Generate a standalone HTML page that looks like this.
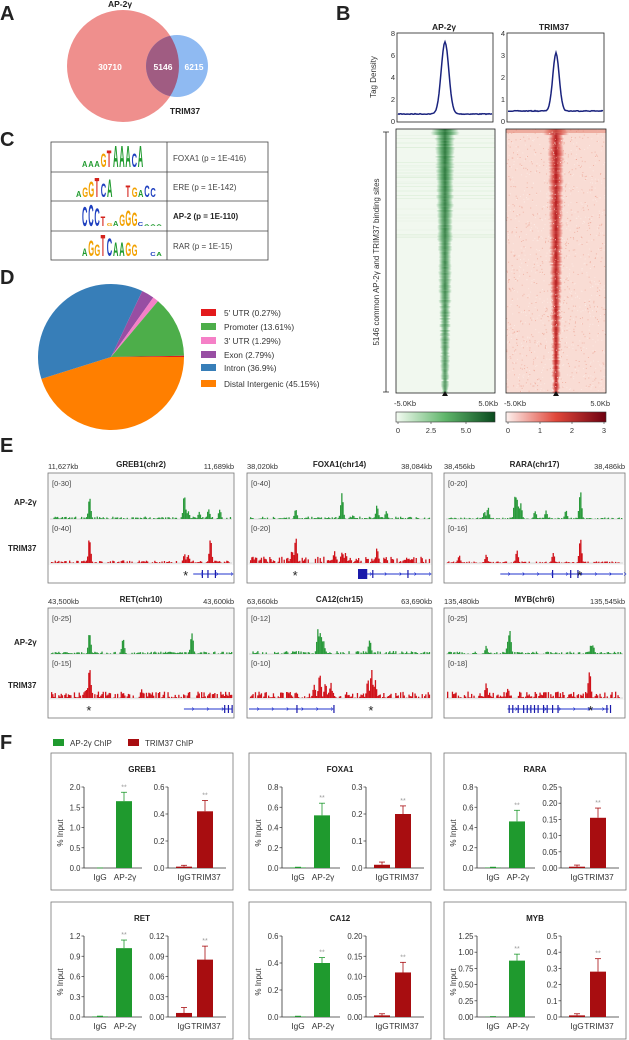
<!DOCTYPE html>
<html><head><meta charset="utf-8">
<style>
html,body{margin:0;padding:0;background:#fff;}
svg{display:block;font-family:"Liberation Sans",Arial,sans-serif;}
</style></head>
<body>
<svg id="s" width="629" height="1040" viewBox="0 0 629 1040" xmlns="http://www.w3.org/2000/svg">
<defs>
<linearGradient id="gband" x1="0" x2="1" y1="0" y2="0">
<stop offset="0" stop-color="#2f9a45" stop-opacity="0"/><stop offset="0.3" stop-color="#2a8a3e" stop-opacity="0.75"/><stop offset="0.5" stop-color="#1d6e2e" stop-opacity="1"/><stop offset="0.7" stop-color="#2a8a3e" stop-opacity="0.75"/><stop offset="1" stop-color="#2f9a45" stop-opacity="0"/></linearGradient>
<linearGradient id="rband" x1="0" x2="1" y1="0" y2="0">
<stop offset="0" stop-color="#d8322a" stop-opacity="0"/><stop offset="0.3" stop-color="#d02a24" stop-opacity="0.75"/><stop offset="0.5" stop-color="#b0161a" stop-opacity="1"/><stop offset="0.7" stop-color="#d02a24" stop-opacity="0.75"/><stop offset="1" stop-color="#d8322a" stop-opacity="0"/></linearGradient>
<linearGradient id="gcb" x1="0" x2="1"><stop offset="0" stop-color="#f4fbf2"/><stop offset="0.5" stop-color="#5fb56a"/><stop offset="1" stop-color="#0a4a1e"/></linearGradient>
<linearGradient id="rcb" x1="0" x2="1"><stop offset="0" stop-color="#fdf1ee"/><stop offset="0.5" stop-color="#e0473a"/><stop offset="1" stop-color="#6e0010"/></linearGradient>
<clipPath id="bc"><circle cx="177" cy="66" r="31"/></clipPath>
</defs>

<g font-weight="bold" font-size="20" fill="#222">
<text x="0" y="20">A</text><text x="336" y="20">B</text><text x="0" y="146">C</text><text x="0" y="284">D</text><text x="0" y="452">E</text><text x="0" y="749">F</text>
</g>

<circle cx="123" cy="66" r="56" fill="#ef8f8d"/>
<circle cx="177" cy="66" r="31" fill="#8fbaf2"/>
<circle cx="123" cy="66" r="56" fill="#a05c82" clip-path="url(#bc)"/>
<g font-size="8.5" font-weight="bold" text-anchor="middle">
<text x="120" y="7" fill="#222">AP-2γ</text>
<text x="185" y="114" fill="#222">TRIM37</text>
<text x="110" y="70" fill="#fff">30710</text>
<text x="163" y="70" fill="#fff">5146</text>
<text x="194" y="70" fill="#fff">6215</text>
</g>

<g font-size="8.5" font-weight="bold" text-anchor="middle" fill="#222">
<text x="444" y="30">AP-2γ</text><text x="554" y="30">TRIM37</text></g>
<rect x="397" y="33" width="96" height="89" fill="none" stroke="#222" stroke-width="0.8"/>
<rect x="507" y="33" width="97" height="89" fill="none" stroke="#222" stroke-width="0.8"/>
<g id="prof"></g>
<text transform="translate(376,77) rotate(-90)" font-size="8" text-anchor="middle" fill="#333">Tag Density</text>
<g font-size="7.5" fill="#333" text-anchor="end">
<text x="395" y="36">8</text><text x="395" y="58">6</text><text x="395" y="80">4</text><text x="395" y="102">2</text><text x="395" y="124">0</text>
<text x="505" y="36">4</text><text x="505" y="58">3</text><text x="505" y="80">2</text><text x="505" y="102">1</text><text x="505" y="124">0</text>
</g>

<g id="hm"></g>
<rect x="396" y="129" width="99" height="264" fill="none" stroke="#222" stroke-width="0.8"/>
<rect x="506" y="129" width="100" height="264" fill="none" stroke="#222" stroke-width="0.8"/>
<path d="M383,132 H389 M386,132 V392 M383,392 H389" stroke="#222" stroke-width="0.8" fill="none"/>
<text transform="translate(379,262) rotate(-90)" font-size="8" text-anchor="middle" fill="#333">5146 common AP-2γ and TRIM37 binding sites</text>
<path d="M442,396 L448,396 L445,391 Z M553,396 L559,396 L556,391 Z" fill="#111"/>
<g font-size="7.5" fill="#333">
<text x="394" y="406">-5.0Kb</text><text x="498" y="406" text-anchor="end">5.0Kb</text>
<text x="504" y="406">-5.0Kb</text><text x="610" y="406" text-anchor="end">5.0Kb</text>
</g>
<rect x="396" y="412" width="99" height="10" fill="url(#gcb)" stroke="#333" stroke-width="0.6"/>
<rect x="506" y="412" width="100" height="10" fill="url(#rcb)" stroke="#333" stroke-width="0.6"/>
<g font-size="7.5" fill="#333" text-anchor="middle">
<text x="398" y="433">0</text><text x="431" y="433">2.5</text><text x="466" y="433">5.0</text>
<text x="508" y="433">0</text><text x="540" y="433">1</text><text x="572" y="433">2</text><text x="604" y="433">3</text>
</g>
<path d="M398,422v2M431,422v2M466,422v2M508,422v2M540,422v2M572,422v2M604,422v2" stroke="#333" stroke-width="0.6"/>

<rect x="51" y="142" width="217" height="118" fill="none" stroke="#444" stroke-width="0.8"/>
<path d="M167,142V260M51,172H268M51,201H268M51,231H268" stroke="#444" stroke-width="0.8"/>
<g font-size="8" fill="#444">
<text x="173" y="161">FOXA1 (p = 1E-416)</text>
<text x="173" y="190">ERE (p = 1E-142)</text>
<text x="173" y="219" font-weight="bold" fill="#222">AP-2 (p = 1E-110)</text>
<text x="173" y="249">RAR (p = 1E-15)</text>
</g>
<g id="logos" font-weight="bold" font-family="Liberation Sans Narrow,Liberation Sans,sans-serif"></g>

<g id="pie"></g>
<g font-size="8.3" fill="#333">
<rect x="201" y="309" width="15" height="7" fill="#e31a1c"/><text x="224" y="316">5' UTR (0.27%)</text>
<rect x="201" y="323" width="15" height="7" fill="#4dae4a"/><text x="224" y="330">Promoter (13.61%)</text>
<rect x="201" y="337" width="15" height="7" fill="#f580c7"/><text x="224" y="344">3' UTR (1.29%)</text>
<rect x="201" y="351" width="15" height="7" fill="#984ea3"/><text x="224" y="358">Exon (2.79%)</text>
<rect x="201" y="364" width="15" height="7" fill="#377eb8"/><text x="224" y="371">Intron (36.9%)</text>
<rect x="201" y="380" width="15" height="7" fill="#ff7f00"/><text x="224" y="387">Distal Intergenic (45.15%)</text>
</g>

<g id="tracks"></g>
<g font-size="8" font-weight="bold" fill="#222">
<text x="14" y="505">AP-2γ</text><text x="8" y="551">TRIM37</text>
<text x="14" y="645">AP-2γ</text><text x="8" y="688">TRIM37</text>
</g>

<rect x="53" y="739" width="11" height="7" fill="#1f9a2e"/><text x="70" y="746" font-size="8" fill="#333">AP-2γ ChIP</text>
<rect x="128" y="739" width="11" height="7" fill="#a80d10"/><text x="145" y="746" font-size="8" fill="#333">TRIM37 ChIP</text>
<g id="bars"></g>
</svg>
<script>
var NS="http://www.w3.org/2000/svg";
function el(p,t,a,txt){var e=document.createElementNS(NS,t);for(var k in a)e.setAttribute(k,a[k]);if(txt!==undefined)e.textContent=txt;p.appendChild(e);return e;}
var seed=7;function rnd(){seed=(seed*16807)%2147483647;return (seed-1)/2147483646;}
var pg=document.getElementById('prof');
function prof(x0,w,base,peak,cx,sig){var pts=[];for(var i=0;i<=w;i++){var x=x0+i;var d=x-cx;var y=base-(base-peak)*Math.exp(-d*d/(2*sig*sig))+(rnd()-0.5)*0.8;pts.push(x+','+y.toFixed(1));}el(pg,'polyline',{points:pts.join(' '),fill:'none',stroke:'#1a237e','stroke-width':1.5});}
prof(398,94,114,42,445,3.8);prof(508,95,111,53,556,3.2);
var hm=document.getElementById('hm');
el(hm,'rect',{x:396,y:129,width:99,height:264,fill:'#f1f8ef'});
el(hm,'rect',{x:506,y:129,width:100,height:264,fill:'#f9dcd4'});
for(var y=129;y<393;y+=1.5){var t=(y-129)/264;
 var a=rnd();if(y<240&&a<0.3){el(hm,'rect',{x:396,y:y,width:99,height:1,fill:'#bfe0b9',opacity:(0.1+0.3*rnd()*(1-t)).toFixed(2)});}
 var hw=10-6.5*t+(rnd()-0.5)*2;if(y<135)hw+=4;
 el(hm,'rect',{x:(445-hw).toFixed(1),y:y,width:(2*hw).toFixed(1),height:1.6,fill:'url(#gband)',opacity:(0.85+0.1*rnd()-0.2*t).toFixed(2)});
 var hr=8-4.5*t+(rnd()-0.5)*2;if(y<135)hr+=4;
 el(hm,'rect',{x:(556-hr).toFixed(1),y:y,width:(2*hr).toFixed(1),height:1.6,fill:'url(#rband)',opacity:(0.85+0.15*rnd()).toFixed(2)});
}
for(var i=0;i<1400;i++){el(hm,'rect',{x:(506+rnd()*99).toFixed(1),y:(129+rnd()*263).toFixed(1),width:1,height:1,fill:rnd()<0.5?'#eea596':'#fdeeea',opacity:0.7});}
el(hm,'rect',{x:506,y:129,width:100,height:4,fill:'#e07060',opacity:0.45});
var lg=document.getElementById('logos');
var cols={A:'#1f9a2e',C:'#1e3fbf',G:'#f2a100',T:'#d4231c'};
function logo(seq,hts,x0,yb){var x=x0;for(var i=0;i<seq.length;i++){var c=seq[i];var h=hts[i];if(c!==' '){el(lg,'text',{x:0,y:0,'font-size':10,fill:cols[c],transform:'translate('+x+','+yb+') scale(0.75,'+(h/7.2).toFixed(2)+')'},c);}x+=6.2;}}
logo('AAAGTAAACA',[6,6,6,14,17,22,22,22,14,22],82,167);
logo('AGGTCA  TGACC',[6,10,16,20,14,18,0,0,12,10,7,12,9],76,197);
logo('CCCTGAGGGCAAA',[20,22,18,10,3,5,12,16,14,4,2,2,2],82,226);
logo('AGGTCAAGG  CA',[8,16,12,22,18,14,14,14,12,0,0,4,4],82,256);
var pie=document.getElementById('pie');
var data=[[45.15,'#ff7f00'],[36.9,'#377eb8'],[2.79,'#984ea3'],[1.29,'#f580c7'],[13.61,'#4dae4a'],[0.27,'#e31a1c']];
var cx=111,cy=357,r=73,ang=0;
data.forEach(function(d){var a2=ang+d[0]/100.01*2*Math.PI;var x1=cx+r*Math.cos(ang),y1=cy+r*Math.sin(ang),x2=cx+r*Math.cos(a2),y2=cy+r*Math.sin(a2);var lf=(a2-ang)>Math.PI?1:0;el(pie,'path',{d:'M'+cx+','+cy+'L'+x1.toFixed(2)+','+y1.toFixed(2)+'A'+r+','+r+' 0 '+lf+' 1 '+x2.toFixed(2)+','+y2.toFixed(2)+'Z',fill:d[1]});ang=a2;});
var tg=document.getElementById('tracks');
var boxes=[
 {x:48,w:186,y:473,h:110,l:'11,627kb',t:'GREB1(chr2)',r:'11,689kb',r1:'[0-30]',r2:'[0-40]',
  g:[[.22,.75],[.73,.9],[.75,.3],[.81,.25],[.86,.4],[.92,.35]],rd:[[.22,.85],[.73,.3],[.75,.3],[.87,.8]],star:.74,gene:[.77,1,[.83,.86,.9]],noise:.08},
 {x:247,w:185,y:473,h:110,l:'38,020kb',t:'FOXA1(chr14)',r:'38,084kb',r1:'[0-40]',r2:'[0-20]',
  g:[[.26,.35],[.51,.95],[.57,.15],[.70,.5],[.75,.3]],rd:[[.26,.9],[.51,.4],[.70,.5],[.24,.45],[.47,.4],[.53,.35]],star:.26,gene:[.61,1,[.68,.87]],block:[.60,.65],noise:.08,rnoise:.2},
 {x:444,w:181,y:473,h:110,l:'38,456kb',t:'RARA(chr17)',r:'38,486kb',r1:'[0-20]',r2:'[0-16]',
  g:[[.24,.4],[.22,.3],[.39,.9],[.40,.8],[.42,.6],[.5,.3],[.56,.3],[.75,.95],[.67,.3]],rd:[[.75,.85],[.4,.4],[.08,.25],[.23,.3],[.6,.35]],star:.75,gene:[.3,1,[.6,.7,.74]],noise:.05},
 {x:48,w:186,y:608,h:110,l:'43,500kb',t:'RET(chr10)',r:'43,600kb',r1:'[0-25]',r2:'[0-15]',
  g:[[.22,.8],[.40,.6],[.77,.85]],rd:[[.22,1.1],[.2,.3],[.5,.3]],star:.22,gene:[.72,1,[.95,.97,.99]],noise:.08,rnoise:.2},
 {x:247,w:185,y:608,h:110,l:'63,660kb',t:'CA12(chr15)',r:'63,690kb',r1:'[0-12]',r2:'[0-10]',
  g:[[.38,.85],[.39,.8],[.40,.7],[.41,.5],[.66,.55]],rd:[[.39,.9],[.36,.5],[.42,.5],[.45,.5],[.67,.9],[.65,.6],[.69,.6]],star:.67,gene:[0,.47,[.27,.47]],noise:.1,rnoise:.2},
 {x:444,w:181,y:608,h:110,l:'135,480kb',t:'MYB(chr6)',r:'135,545kb',r1:'[0-25]',r2:'[0-18]',
  g:[[.23,.3],[.36,.95],[.35,.5],[.81,.35],[.82,.35]],rd:[[.23,.5],[.80,.95],[.35,.3]],star:.81,gene:[.34,.92,[.36,.38,.41,.44,.46,.48,.5,.52,.55,.57,.6,.63,.9,.92]],noise:.08,rnoise:.2}
];
boxes.forEach(function(b){
 el(tg,'rect',{x:b.x,y:b.y,width:b.w,height:b.h,fill:'#f6f6f6',stroke:'#777','stroke-width':0.8});
 el(tg,'rect',{x:b.x+0.5,y:b.y+92,width:b.w-1,height:b.h-92.5,fill:'#fff'});
 el(tg,'text',{x:b.x,y:b.y-4,'font-size':7.5,fill:'#333'},b.l);
 el(tg,'text',{x:b.x+b.w/2,y:b.y-6,'font-size':8,'font-weight':'bold','text-anchor':'middle',fill:'#222'},b.t);
 el(tg,'text',{x:b.x+b.w,y:b.y-4,'font-size':7.5,'text-anchor':'end',fill:'#333'},b.r);
 el(tg,'text',{x:b.x+4,y:b.y+13,'font-size':7.5,fill:'#444'},b.r1);
 el(tg,'text',{x:b.x+4,y:b.y+58,'font-size':7.5,fill:'#444'},b.r2);
 function track(base,hmax,peaks,col,nz){
  el(tg,'line',{x1:b.x+2,x2:b.x+b.w-2,y1:base,y2:base,stroke:'#ccc','stroke-width':0.8});
  for(var x=b.x+3;x<b.x+b.w-3;x+=1.2){var f=(x-b.x)/b.w;var h=rnd()<0.75?rnd()*hmax*nz:0;
   peaks.forEach(function(p){var d=(f-p[0])*b.w;if(Math.abs(d)<3.5)h=Math.max(h,p[1]*hmax*Math.exp(-d*d/3)*(0.8+0.2*rnd()));});
   if(h>0.3)el(tg,'rect',{x:x.toFixed(1),y:(base-h).toFixed(1),width:1.3,height:h.toFixed(1),fill:col});}
 }
 track(b.y+46,30,b.g,'#2b9a3c',b.noise);
 track(b.y+90,32,b.rd,'#d0121a',b.rnoise||b.noise);
 var gy=b.y+101,g=b.gene;
 el(tg,'line',{x1:b.x+b.w*g[0]+2,x2:b.x+b.w*g[1]-2,y1:gy,y2:gy,stroke:'#2233cc','stroke-width':1});
 g[2].forEach(function(f){el(tg,'line',{x1:b.x+b.w*f,x2:b.x+b.w*f,y1:gy-4,y2:gy+4,stroke:'#1a1aaa','stroke-width':1.2});});
 for(var f=g[0]+0.06;f<g[1];f+=0.08){el(tg,'path',{d:'M'+(b.x+b.w*f-1)+','+(gy-1.5)+'l2,1.5l-2,1.5',stroke:'#2233cc',fill:'none','stroke-width':0.6});}
 if(b.block)el(tg,'rect',{x:b.x+b.w*b.block[0],y:gy-5,width:b.w*(b.block[1]-b.block[0]),height:10,fill:'#1a1aaa'});
 el(tg,'text',{x:b.x+b.w*b.star,y:gy+6,'font-size':13,'text-anchor':'middle',fill:'#222'},'*');
});
var bg=document.getElementById('bars');
var charts=[
 {x:51,y:753,t:'GREB1',L:[['0.0','0.5','1.0','1.5','2.0'],2,0.001,0,1.65,.22],R:[['0.0','0.2','0.4','0.6'],0.6,0.01,0.01,0.42,.08]},
 {x:249,y:753,t:'FOXA1',L:[['0.0','0.2','0.4','0.6','0.8'],0.8,0.005,0.003,0.52,.12],R:[['0.0','0.1','0.2','0.3'],0.3,0.012,0.01,0.2,.03]},
 {x:444,y:753,t:'RARA',L:[['0.0','0.2','0.4','0.6','0.8'],0.8,0.005,0.003,0.46,.11],R:[['0.00','0.05','0.10','0.15','0.20','0.25'],0.25,0.004,0.005,0.155,.03]},
 {x:51,y:902,t:'RET',L:[['0.0','0.3','0.6','0.9','1.2'],1.2,0.008,0.005,1.02,.12],R:[['0.00','0.03','0.06','0.09','0.12'],0.12,0.006,0.008,0.085,.02]},
 {x:249,y:902,t:'CA12',L:[['0.0','0.2','0.4','0.6'],0.6,0.003,0.003,0.4,.04],R:[['0.00','0.05','0.10','0.15','0.20'],0.2,0.004,0.004,0.11,.025]},
 {x:444,y:902,t:'MYB',L:[['0.00','0.25','0.50','0.75','1.00','1.25'],1.25,0.004,0.003,0.87,.1],R:[['0.0','0.1','0.2','0.3','0.4','0.5'],0.5,0.01,0.01,0.28,.08]}
];
charts.forEach(function(c){
 el(bg,'rect',{x:c.x,y:c.y,width:182,height:137,fill:'none',stroke:'#777','stroke-width':0.8});
 el(bg,'text',{x:c.x+91,y:c.y+19,'font-size':8,'font-weight':'bold','text-anchor':'middle',fill:'#222'},c.t);
 el(bg,'text',{x:0,y:0,'font-size':8,'text-anchor':'middle',fill:'#333',transform:'translate('+(c.x+12)+','+(c.y+80)+') rotate(-90)'},'% Input');
 var top=c.y+34,zero=c.y+115;
 [[c.L,c.x+33,'#1f9a2e','AP-2γ',40],[c.R,c.x+117,'#a80d10','TRIM37',37]].forEach(function(s){
  var d=s[0],ax=s[1],n=d[0].length;
  el(bg,'line',{x1:ax,x2:ax,y1:top,y2:zero,stroke:'#333','stroke-width':0.8});
  el(bg,'line',{x1:ax,x2:ax+58,y1:zero,y2:zero,stroke:'#333','stroke-width':0.8});
  d[0].forEach(function(l,i){var yy=zero-(zero-top)*i/(n-1);el(bg,'line',{x1:ax-2.5,x2:ax,y1:yy,y2:yy,stroke:'#333','stroke-width':0.7});el(bg,'text',{x:ax-3.5,y:yy+3,'font-size':7.8,'text-anchor':'end',fill:'#333'},l);});
  function py(v){return zero-(zero-top)*v/d[1];}
  function bar(cx,v,e,col){var y=py(v);
   el(bg,'line',{x1:cx,x2:cx,y1:py(v+e),y2:y,stroke:col,'stroke-width':0.8});
   el(bg,'line',{x1:cx-3,x2:cx+3,y1:py(v+e),y2:py(v+e),stroke:col,'stroke-width':0.8});
   el(bg,'rect',{x:cx-8,y:y,width:16,height:zero-y,fill:col});}
  bar(ax+16,d[2],d[3],s[2]);bar(ax+s[4],d[4],d[5],s[2]);
  el(bg,'text',{x:ax+s[4],y:py(d[4]+d[5])-3,'font-size':7,'text-anchor':'middle',fill:'#999'},'**');
  el(bg,'text',{x:ax+16,y:zero+12,'font-size':8.3,'text-anchor':'middle',fill:'#333'},'IgG');
  el(bg,'text',{x:ax+s[4]+1,y:zero+12,'font-size':8.3,'text-anchor':'middle',fill:'#333'},s[3]);
 });
});
</script>
</body></html>
